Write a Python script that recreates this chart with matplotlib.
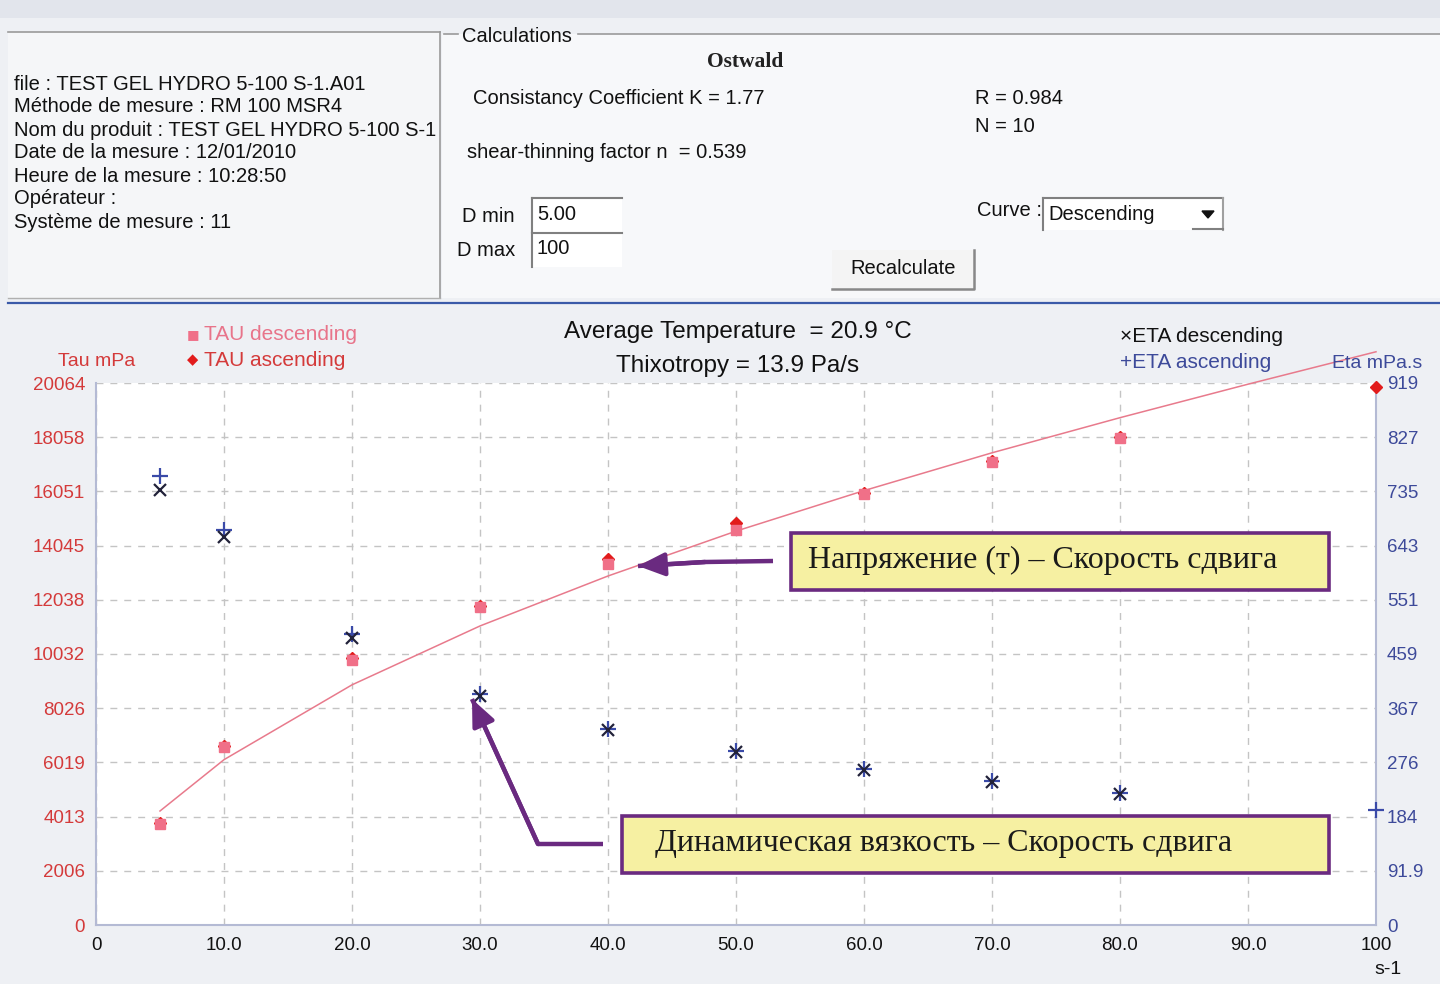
import matplotlib
matplotlib.use("Agg")
import matplotlib.pyplot as plt
from matplotlib.patches import Rectangle, Polygon

# ---------------- data ----------------
shear_rate = [5, 10, 20, 30, 40, 50, 60, 70, 80]
tau_descending = [3740, 6590, 9810, 11770, 13360, 14620, 15960, 17140, 18030]
tau_ascending_x = [5, 10, 20, 30, 40, 50, 60, 70, 80, 100]
tau_ascending = [3780, 6640, 9870, 11820, 13550, 14880, 16010, 17190, 18080, 19920]
eta_descending = [738, 658, 487, 388, 331, 293, 263, 242, 222]
eta_ascending_x = [5, 10, 20, 30, 40, 50, 60, 70, 80, 100]
eta_ascending = [761, 670, 493, 391, 333, 295, 265, 244, 224, 195]
fit_x = [5, 10, 20, 30, 40, 50, 60, 70, 80, 90, 100]
fit_tau = [4220, 6120, 8890, 11070, 12920, 14580, 16080, 17480, 18780, 20020, 21220]

tau_ticks = [0, 2006, 4013, 6019, 8026, 10032, 12038, 14045, 16051, 18058, 20064]
tau_ticklabels = ["0", "2006", "4013", "6019", "8026", "10032", "12038", "14045",
                  "16051", "18058", "20064"]
eta_ticks = [0, 91.9, 183.8, 275.7, 367.6, 459.5, 551.4, 643.3, 735.2, 827.1, 919]
eta_ticklabels = ["0", "91.9", "184", "276", "367", "459", "551", "643", "735", "827", "919"]
x_ticks = [0, 10, 20, 30, 40, 50, 60, 70, 80, 90, 100]
x_ticklabels = ["0", "10.0", "20.0", "30.0", "40.0", "50.0", "60.0", "70.0", "80.0", "90.0", "100"]

info_lines = ["file : TEST GEL HYDRO 5-100 S-1.A01",
              "Méthode de mesure : RM 100 MSR4",
              "Nom du produit : TEST GEL HYDRO 5-100 S-1",
              "Date de la mesure : 12/01/2010",
              "Heure de la mesure : 10:28:50",
              "Opérateur :",
              "Système de mesure : 11"]
# --------------------------------------

SANS = "Liberation Sans"
RED = "#d43a3a"
BLUE = "#3d4a9a"
PURPLE = "#6a2a80"
CALC_FS = 14.5

W, H = 1440, 984
fig = plt.figure(figsize=(W / 100, H / 100), dpi=100, facecolor="#eef0f4")

# background / panel layer in pixel coordinates
bg = fig.add_axes([0, 0, 1, 1], zorder=0)
bg.set_xlim(0, W)
bg.set_ylim(H, 0)
bg.axis("off")
bg.add_patch(Rectangle((0, 0), W, 18, color="#e2e5ec", lw=0))
bg.add_patch(Rectangle((8, 32), 432, 266, facecolor="#f5f6f8", edgecolor="none"))
bg.add_patch(Rectangle((442, 34), 998, 264, facecolor="#f7f8fa", edgecolor="none"))
bg.plot([8, 440], [32, 32], color="#9a9a9a", lw=1.2)
bg.plot([440, 440], [32, 298], color="#9a9a9a", lw=1.2)
bg.plot([8, 440], [298, 298], color="#b0b0b0", lw=1.0)
bg.plot([444, 458], [34, 34], color="#9a9a9a", lw=1.2)
bg.plot([578, 1440], [34, 34], color="#9a9a9a", lw=1.2)
bg.plot([8, 1440], [303, 303], color="#3a5aa8", lw=1.6)

for i, line in enumerate(info_lines):
    bg.text(14, 84 + i * 23.0, line, family=SANS, fontsize=14.5, color="#111111",
            va="center", ha="left")

bg.text(462, 36, "Calculations", family=SANS, fontsize=CALC_FS, color="#111111", va="center")
bg.text(745, 62, "Ostwald", family="Liberation Serif", fontsize=15.5, weight="bold",
        color="#222222", va="center", ha="center")
bg.text(473, 99, "Consistancy Coefficient K = 1.77", family=SANS, fontsize=CALC_FS,
        color="#111111", va="center")
bg.text(975, 99, "R = 0.984", family=SANS, fontsize=CALC_FS, color="#111111", va="center")
bg.text(975, 126, "N = 10", family=SANS, fontsize=CALC_FS, color="#111111", va="center")
bg.text(467, 152, "shear-thinning factor n  = 0.539", family=SANS, fontsize=CALC_FS,
        color="#111111", va="center")
bg.text(462, 216, "D min", family=SANS, fontsize=CALC_FS, color="#111111", va="center")
bg.text(457, 251, "D max", family=SANS, fontsize=CALC_FS, color="#111111", va="center")
for (y0, txt) in [(198, "5.00"), (233, "100")]:
    bg.add_patch(Rectangle((532, y0), 90, 34, facecolor="white", edgecolor="none"))
    bg.plot([532, 622], [y0, y0], color="#808080", lw=1.5)
    bg.plot([532, 532], [y0, y0 + 34], color="#808080", lw=1.5)
    bg.text(537, y0 + 16, txt, family=SANS, fontsize=CALC_FS, color="#111111", va="center")
bg.text(977, 210, "Curve :", family=SANS, fontsize=CALC_FS, color="#111111", va="center")
bg.add_patch(Rectangle((1043, 198), 180, 32, facecolor="white", edgecolor="none"))
bg.plot([1043, 1223], [198, 198], color="#808080", lw=1.5)
bg.plot([1043, 1043], [198, 230], color="#808080", lw=1.5)
bg.plot([1223, 1223], [198, 230], color="#a0a0a0", lw=1.5)
bg.plot([1193, 1223], [229, 229], color="#808080", lw=1.5)
bg.add_patch(Polygon([[1202, 211], [1214, 211], [1208, 218]], color="#111111"))
bg.text(1048, 214, "Descending", family=SANS, fontsize=CALC_FS, color="#111111", va="center")
bg.add_patch(Rectangle((832, 250), 142, 40, facecolor="#f4f4f4", edgecolor="none"))
bg.plot([832, 974, 974], [289, 289, 250], color="#888888", lw=1.8)
bg.text(903, 269, "Recalculate", family=SANS, fontsize=CALC_FS, color="#111111",
        va="center", ha="center")

# ---------------- main chart ----------------
left, right, top, bottom = 96, 1376, 383, 925
ax = fig.add_axes([left / W, 1 - bottom / H, (right - left) / W, (bottom - top) / H], zorder=2)
ax.set_facecolor("white")
ax.set_xlim(0, 100)
ax.set_ylim(0, 20064)
ax.set_xticks(x_ticks)
ax.set_xticklabels(x_ticklabels, family=SANS, fontsize=13.5, color="#111111")
ax.set_yticks(tau_ticks)
ax.set_yticklabels(tau_ticklabels, family=SANS, fontsize=13.5, color=RED)
ax.tick_params(length=0, pad=8)
ax.tick_params(axis="x", pad=9)
ax.grid(True, color="#c4c4c4", linestyle=(0, (5, 5)), lw=1.0)
ax.spines["top"].set_visible(False)
for s in ["left", "right", "bottom"]:
    ax.spines[s].set_color("#b4bad4")
    ax.spines[s].set_linewidth(1.5)

ax.plot(fit_x, fit_tau, color="#e87a8c", lw=1.1, clip_on=False, zorder=3)
ax.plot(tau_ascending_x, tau_ascending, linestyle="none", marker="D", markersize=6.5,
        color="#e21c1c", clip_on=False, zorder=4)
ax.plot(shear_rate, tau_descending, linestyle="none", marker="s", markersize=7,
        color="#f07088", clip_on=False, zorder=5)

ax2 = ax.twinx()
ax2.set_ylim(0, 919)
ax2.set_yticks(eta_ticks)
ax2.set_yticklabels(eta_ticklabels, family=SANS, fontsize=13.5, color=BLUE)
ax2.tick_params(length=0, pad=8)
for s in ["top", "left", "bottom", "right"]:
    ax2.spines[s].set_visible(False)
ax2.plot(eta_ascending_x, eta_ascending, linestyle="none", marker="+", markersize=11,
         mew=1.6, color="#3a4aa8", clip_on=False, zorder=5)
ax2.plot(shear_rate, eta_descending, linestyle="none", marker="x", markersize=9,
         mew=1.6, color="#22223a", clip_on=False, zorder=6)

# ---------------- overlay texts / annotations ----------------
ov = fig.add_axes([0, 0, 1, 1], zorder=10)
ov.set_xlim(0, W)
ov.set_ylim(H, 0)
ov.axis("off")
ov.patch.set_alpha(0)

ov.text(738, 332, "Average Temperature  = 20.9 °C", family=SANS, fontsize=17.5,
        color="#111111", ha="center", va="center")
ov.text(738, 366, "Thixotropy = 13.9 Pa/s", family=SANS, fontsize=17.5,
        color="#111111", ha="center", va="center")
ov.text(187, 335, "■", family="DejaVu Sans", fontsize=9.5, color="#f07088", ha="left", va="center")
ov.text(204, 335, "TAU descending", family=SANS, fontsize=15, color="#e8748a",
        ha="left", va="center")
ov.text(187, 360, "◆", family="DejaVu Sans", fontsize=10.5, color="#e21c1c", ha="left", va="center")
ov.text(204, 360, "TAU ascending", family=SANS, fontsize=15, color=RED, ha="left", va="center")
ov.text(97, 362, "Tau mPa", family=SANS, fontsize=14, color=RED, ha="center", va="center")
ov.text(1120, 337, "×ETA descending", family=SANS, fontsize=15, color="#111111",
        ha="left", va="center")
ov.text(1120, 362, "+ETA ascending", family=SANS, fontsize=15, color=BLUE,
        ha="left", va="center")
ov.text(1377, 364, "Eta mPa.s", family=SANS, fontsize=14, color=BLUE, ha="center", va="center")
ov.text(1388, 970, "s-1", family=SANS, fontsize=14, color="#111111", ha="center", va="center")

SERIF = "Liberation Serif"
for (x0, y0, x1, y1, txt, tx) in [(791, 533, 1329, 590, "Напряжение (т) – Скорость сдвига", 808),
                                  (622, 816, 1329, 873, "Динамическая вязкость – Скорость сдвига", 655)]:
    ov.add_patch(Rectangle((x0, y0), x1 - x0, y1 - y0, facecolor="#f6f0a2",
                           edgecolor=PURPLE, lw=2.6, zorder=11))
    ov.text(tx, (y0 + y1) / 2 - 1, txt, family=SERIF, fontsize=23, color="#1a1a1a",
            ha="left", va="center", zorder=12)


def arrow(pts):
    xs, ys = zip(*pts)
    ov.plot(xs, ys, color=PURPLE, lw=3.2, solid_capstyle="butt", zorder=11)
    ov.annotate("", xy=pts[-1], xytext=pts[-2],
                arrowprops=dict(arrowstyle="-|>,head_length=1.6,head_width=0.7",
                                color=PURPLE, lw=3.2, shrinkA=0, shrinkB=0), zorder=12)


arrow([(773, 561), (705, 562), (638, 566)])
arrow([(603, 844), (538, 844), (472, 699)])

fig.savefig("out.png", dpi=100, facecolor=fig.get_facecolor())
